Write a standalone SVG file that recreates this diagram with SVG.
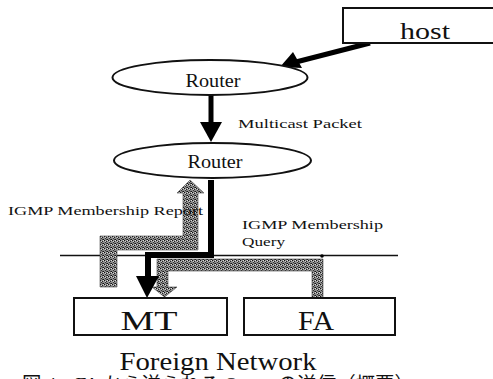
<svg xmlns="http://www.w3.org/2000/svg" width="493" height="379" viewBox="0 0 493 379">
  <defs>
    <!-- halftone stipple used for the IGMP message paths -->
    <pattern id="stipple" width="4" height="4" patternUnits="userSpaceOnUse">
      <rect width="4" height="4" fill="#8c8c8c"/>
      <rect x="0" y="0" width="1" height="1" fill="#111"/>
      <rect x="2" y="1" width="1" height="1" fill="#222"/>
      <rect x="1" y="2" width="1" height="1" fill="#333"/>
      <rect x="3" y="3" width="1" height="1" fill="#111"/>
      <rect x="2" y="3" width="1" height="1" fill="#444"/>
      <rect x="3" y="0" width="1" height="1" fill="#dcdcdc"/>
      <rect x="1" y="1" width="1" height="1" fill="#d0d0d0"/>
    </pattern>
  </defs>
  <style>
    .box { fill: #fff; stroke: #111; stroke-width: 2; }
    .node-label { font-family: "Liberation Serif", "DejaVu Serif", serif; fill: #111; text-anchor: middle; }
    .label { font-family: "Liberation Serif", "DejaVu Serif", serif; fill: #111; font-size: 13px; }
    .flow { fill: url(#stipple); stroke: #444; stroke-width: 0.6; }
    .wire { fill: none; stroke: #000; stroke-width: 6; stroke-linejoin: miter; }
    .head { fill: #000; }
  </style>

  <rect width="493" height="379" fill="#fff"/>

  <!-- subnet line -->
  <line x1="60" y1="255.5" x2="398" y2="255.5" stroke="#111" stroke-width="1.6"/>

  <g id="connectors">
    <!-- host to first router -->
    <line x1="370" y1="43" x2="294" y2="62.5" stroke="#000" stroke-width="5"/>
    <polygon class="head" points="280,67 293,52 302,68"/>
    <!-- router to router -->
    <line x1="211" y1="95" x2="211" y2="124" stroke="#000" stroke-width="5"/>
    <polygon class="head" points="200,122 222,122 211,142"/>
    <!-- IGMP Membership Report (MT to router) -->
    <polygon class="flow" points="100,287 100,236 183,236 183,193 177,193 190,180 204,193 198,193 198,250 117,250 117,287"/>
    <!-- IGMP Membership Query (FA to MT) -->
    <polygon class="flow" points="157,259 323,259 323,298 312,298 312,271 168,271 168,287 177,287 164.5,297 152,287 157,287"/>
    <circle cx="322" cy="256" r="1.8" fill="#000"/>
    <!-- multicast packet delivery to MT -->
    <polyline class="wire" points="211,180 211,255 148,255 148,279"/>
    <polygon class="head" points="136,276 159,276 147,298"/>
  </g>

  <g id="host">
    <rect class="box" x="343" y="8" width="160" height="35"/>
    <text class="node-label" x="425" y="39" font-size="23" textLength="50" lengthAdjust="spacingAndGlyphs">host</text>
  </g>

  <g id="router1">
    <ellipse class="box" cx="210" cy="77.5" rx="97.5" ry="17.5"/>
    <text class="node-label" x="213" y="87" font-size="19" textLength="55" lengthAdjust="spacingAndGlyphs">Router</text>
  </g>

  <g id="router2">
    <ellipse class="box" cx="212.5" cy="160.5" rx="98.5" ry="17.5"/>
    <text class="node-label" x="215" y="168" font-size="19" textLength="55" lengthAdjust="spacingAndGlyphs">Router</text>
  </g>

  <g id="mt">
    <rect class="box" x="74" y="298" width="153" height="37"/>
    <text class="node-label" x="149" y="330" font-size="28" textLength="57" lengthAdjust="spacingAndGlyphs">MT</text>
  </g>

  <g id="fa">
    <rect class="box" x="244" y="298" width="151" height="37"/>
    <text class="node-label" x="316" y="330" font-size="28" textLength="36" lengthAdjust="spacingAndGlyphs">FA</text>
  </g>

  <!-- message labels -->
  <text class="label" x="238" y="128" textLength="124" lengthAdjust="spacingAndGlyphs">Multicast Packet</text>
  <text class="label" x="8" y="215" textLength="195" lengthAdjust="spacingAndGlyphs">IGMP Membership Report</text>
  <text class="label" x="242" y="229" textLength="141" lengthAdjust="spacingAndGlyphs">IGMP Membership</text>
  <text class="label" x="242" y="246" textLength="43" lengthAdjust="spacingAndGlyphs">Query</text>

  <!-- network name and figure caption -->
  <text class="node-label" x="218" y="370" font-size="25" textLength="197" lengthAdjust="spacingAndGlyphs">Foreign Network</text>
  <text x="22" y="391" font-family="'Liberation Serif', 'Noto Sans CJK JP', serif" font-size="19" fill="#111" textLength="392" lengthAdjust="spacingAndGlyphs">図 4　FA から送られる Query の送信（概要）</text>
</svg>
